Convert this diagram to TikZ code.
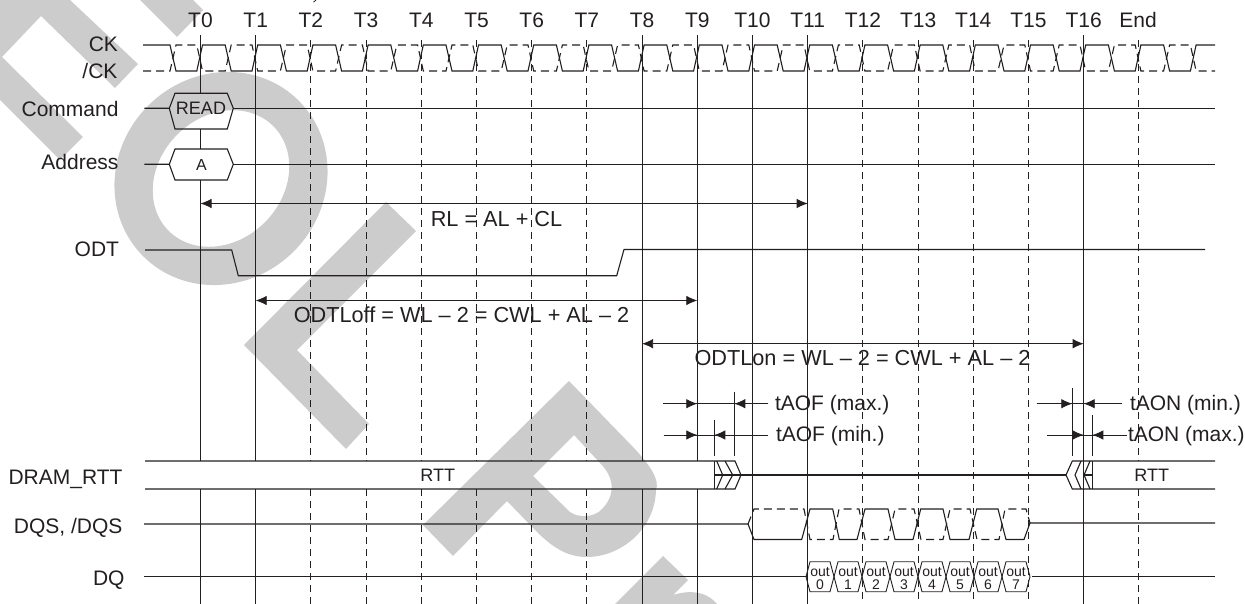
\documentclass[tikz,border=0pt]{standalone}
\usepackage{fontspec}
\setmainfont{Liberation Sans}
\usetikzlibrary{arrows.meta}
\definecolor{ink}{HTML}{231F20}
\definecolor{wm}{HTML}{CCCCCC}
\tikzset{
  wave/.style={draw=ink,line width=1.1pt,line join=miter},
  wavedash/.style={wave,dash pattern=on 8pt off 5pt},
  grid/.style={draw=ink,line width=0.9pt},
  griddash/.style={grid,dash pattern=on 7pt off 5pt},
  dim/.style={draw=ink,line width=0.8pt},
  dimarrow/.style={dim,-{Latex[length=11pt,width=9.5pt]}},
  lab/.style={inner sep=0pt,outer sep=0pt,text=ink,font=\fontsize{21}{21}\selectfont},
  labR/.style={lab,anchor=base east},
  labC/.style={lab,anchor=base},
  labL/.style={lab,anchor=base west},
  labW/.style={lab,anchor=base,font=\fontsize{21.7}{22}\selectfont},
  small/.style={inner sep=0pt,text=ink,anchor=base,font=\fontsize{18}{18}\selectfont},
  tiny/.style={inner sep=0pt,text=ink,anchor=base,font=\fontsize{14}{14}\selectfont},
}
\begin{document}
\begin{tikzpicture}[x=1pt,y=-1pt]
\useasboundingbox (0,0) rectangle (1245,604);
% watermark
\fill[wm] (0,0) -- (70,0) -- (138,64) -- (115,88) -- (41,16) -- (2,57) -- (83,137) -- (60,160) -- (0,100) -- cycle;
\fill[wm] (140,0) -- (177,37) -- (203,10) -- (193,0) -- cycle;
\fill[wm,even odd rule] (221,178.5) circle[x radius=110,y radius=103,rotate=45] (221,178.5) circle[x radius=74,y radius=62,rotate=45];
\fill[wm] (386,202) -- (416,231) -- (297,350) -- (369,424) -- (346,449) -- (244,345) -- cycle;
\fill[wm,even odd rule] (569,381) -- (633,447) .. controls (650,465) and (660,480) .. (656,490)
  .. controls (655,530) and (620,557) .. (587,557) .. controls (565,557) and (550,545) .. (535,530)
  -- (507,501) -- (453,556) -- (423,525) -- cycle
  (574,435) -- (533,476) -- (570,512) .. controls (578,518) and (595,518) .. (603,508)
  .. controls (615,495) and (615,478) .. (600,463) -- cycle;
\fill[wm] (663,556) -- (688,580) -- (673,595) .. controls (695,588) and (710,595) .. (717,604) -- (615,604) -- cycle;
\draw[ink,line width=0.8pt] (316,0) -- (313.5,2.2);
% time coordinates
\foreach \n in {0,...,17} {\coordinate (T\n) at ({200.5+55.2*\n},0);}
% grid lines
\foreach \n in {2,3,4,5,6,7,17} {
  \draw[griddash] (T\n |- 0,40) -- (T\n |- 0,461);
  \draw[griddash] (T\n |- 0,489) -- (T\n |- 0,604);
}
\foreach \n in {12,13,14,15} {\draw[griddash] (T\n |- 0,40) -- (T\n |- 0,604);}
\draw[grid] (T0 |- 0,35) -- (T0 |- 0,93);
\draw[grid] (T0 |- 0,129) -- (T0 |- 0,149);
\draw[grid] (T0 |- 0,180) -- (T0 |- 0,461);
\draw[grid] (T0 |- 0,489) -- (T0 |- 0,604);
\foreach \n in {1,8,9} {
  \draw[grid] (T\n |- 0,35) -- (T\n |- 0,461);
  \draw[grid] (T\n |- 0,489) -- (T\n |- 0,604);
}
\foreach \n in {10,11,16} {\draw[grid] (T\n |- 0,35) -- (T\n |- 0,604);}
% time labels
\foreach \n in {0,...,16} {\node[labC] (L\n) at ({200.5+55.2*\n},28) {T\n};}
\node[labC] (Lend) at (1138,28) {End};
% signal labels
\node[labR] (nCK) at (118,51.7) {CK};
\node[labR] (nCKb) at (117.5,79) {/CK};
\node[labR] (nCmd) at (118.5,116.7) {Command};
\node[labR] (nAddr) at (118.5,170) {Address};
\node[labR] (nODT) at (119,256.7) {ODT};
\node[labR] (nRTT) at (122.5,484.6) {DRAM\_RTT};
\node[labR] (nDQS) at (122.5,533.5) {DQS, /DQS};
\node[labR] (nDQ) at (124.5,585.5) {DQ};
% clocks
\draw[wave] (143,45) foreach \n in {-1,...,17} {
  -- ({200.5+55.2*\n+24.7},45) -- ({200.5+55.2*\n+30.7},71) -- ({200.5+55.2*\n+51.5},71) -- ({200.5+55.2*\n+57.2},45)
} -- (1215,45);
\draw[wavedash] (143,71) foreach \n in {-1,...,17} {
  -- ({200.5+55.2*\n+24.7},71) -- ({200.5+55.2*\n+30.7},45) -- ({200.5+55.2*\n+51.5},45) -- ({200.5+55.2*\n+57.2},71)
} -- (1215,71);
% command, address
\draw[wave] (144.3,108.3) -- (169.3,108.3) -- (175,93.3) -- (227.3,93.3) -- (233.3,108.3) -- (227.3,129) -- (175,129) -- (169.3,108.3);
\draw[wave] (233.3,108.3) -- (1215,108.3);
\node[small] (nREAD) at (201,115) {READ};
\draw[wave] (144.3,164.3) -- (169.3,164.3) -- (175,149) -- (227.3,149) -- (233.3,164.3) -- (227.3,180) -- (175,180) -- (169.3,164.3);
\draw[wave] (233.3,164.3) -- (1215,164.3);
\node[inner sep=0pt,text=ink,anchor=base,font=\fontsize{16}{16}\selectfont] (nA) at (201.5,171) {A};
% ODT
\draw[wave] (145,250) -- (231.7,250) -- (238.3,275.7) -- (616.7,275.7) -- (624,249.5) -- (1205,249.5);
% long dimensions
\coordinate (rlA) at (T0 |- 0,203.5); \coordinate (rlB) at (T11 |- 0,203.5);
\draw[dim,{Latex[length=11pt,width=9.5pt]}-{Latex[length=11pt,width=9.5pt]}] (rlA) -- (rlB);
\node[labW] (nRL) at (496.5,226) {RL = AL + CL};
\coordinate (ofA) at (T1 |- 0,300.5); \coordinate (ofB) at (T9 |- 0,300.5);
\draw[dim,{Latex[length=11pt,width=9.5pt]}-{Latex[length=11pt,width=9.5pt]}] (ofA) -- (ofB);
\node[labW] (nOff) at (461.5,322.7) {ODTLoff = WL – 2 = CWL + AL – 2};
\coordinate (onA) at (T8 |- 0,343.7); \coordinate (onB) at (T16 |- 0,343.7);
\draw[dim,{Latex[length=11pt,width=9.5pt]}-{Latex[length=11pt,width=9.5pt]}] (onA) -- (onB);
\node[labW] (nOn) at (862.5,365) {ODTLon = WL – 2 = CWL + AL – 2};
% tAOF
\coordinate (t734) at (734.3,391.7); \coordinate (t734b) at (734.3,456);
\coordinate (t714) at (714.3,420); \coordinate (t714b) at (714.3,456);
\draw[grid] (t734) -- (t734b); \draw[grid] (t714) -- (t714b);
\coordinate (a1) at (663.3,403.7); \coordinate (a2) at (T9 |- 0,403.7);
\coordinate (a3) at (768.3,403.7); \coordinate (a4) at (734.3,403.7);
\draw[dim] (a1) -- (a3); \draw[dimarrow] (a1) -- (a2); \draw[dimarrow] (a3) -- (a4);
\coordinate (b1) at (663.7,435); \coordinate (b2) at (T9 |- 0,435);
\coordinate (b3) at (768.3,435); \coordinate (b4) at (714.3,435);
\draw[dim] (b1) -- (b3); \draw[dimarrow] (b1) -- (b2); \draw[dimarrow] (b3) -- (b4);
\node[labL] (nAOFx) at (775,410) {tAOF (max.)};
\node[labL] (nAOFn) at (776,441.7) {tAOF (min.)};
% tAON
\coordinate (t1072) at (1072.3,388.3); \coordinate (t1072b) at (1072.3,456);
\coordinate (t1092) at (1092.3,415); \coordinate (t1092b) at (1092.3,456);
\draw[grid] (t1072) -- (t1072b); \draw[grid] (t1092) -- (t1092b);
\coordinate (c1) at (1036.7,403.7); \coordinate (c2) at (1072.3,403.7);
\coordinate (c3) at (1121.7,403.7); \coordinate (c4) at (T16 |- 0,403.7);
\draw[dim] (c1) -- (c3); \draw[dimarrow] (c1) -- (c2); \draw[dimarrow] (c3) -- (c4);
\coordinate (d1) at (1047.3,435); \coordinate (d2) at (T16 |- 0,435);
\coordinate (d3) at (1126.7,435); \coordinate (d4) at (1092.3,435);
\draw[dim] (d1) -- (d3); \draw[dimarrow] (d1) -- (d2); \draw[dimarrow] (d3) -- (d4);
\node[labL] (nAONn) at (1130,410) {tAON (min.)};
\node[labL] (nAONx) at (1128,441.7) {tAON (max.)};
% DRAM_RTT
\draw[wave] (145,461) -- (735,461) -- (741,475) -- (735,489) -- (145,489);
\draw[wave] (714.3,461) -- (714.3,489);
\draw[wave] (716.7,461) -- (722.7,475) -- (716.7,489);
\draw[wave] (725,461) -- (732.7,475) -- (725,489);
\draw[wave] (714.3,475) -- (1066,475);
\draw[wave] (1215,461) -- (1072.3,461) -- (1066,475) -- (1072.3,489) -- (1215,489);
\draw[wave] (1092.3,461) -- (1092.3,489);
\draw[wave] (1081,461) -- (1075,475) -- (1081,489);
\draw[wave] (1090,461) -- (1084,475) -- (1090,489);
\draw[wave] (1084,475) -- (1092.3,475);
\node[small] (nR1) at (437.7,481.7) {RTT};
\node[small] (nR2) at (1151.7,481.3) {RTT};
% DQS
\draw[wave] (144,524) -- (748,524) -- (754,539.5) -- (801.7,539.5) -- (810,509) -- (832.7,509) -- (839.3,539.5)
  -- (857,539.5) -- (865,509) -- (888,509) -- (895,539.5) -- (913,539.5) -- (920.7,509) -- (943,509) -- (950,539.5)
  -- (969,539.5) -- (976.7,509) -- (998,509) -- (1006,539.5) -- (1024,539.5) -- (1030,523) -- (1215,523);
\draw[wavedash] (748,524) -- (754,509) -- (804,509) -- (810,539.5) -- (833,539.5) -- (839,509) -- (859,509) -- (865,539.5)
  -- (888,539.5) -- (895,509) -- (914,509) -- (921,539.5) -- (943,539.5) -- (950,509) -- (970,509) -- (977,539.5)
  -- (999,539.5) -- (1005,509) -- (1026,509) -- (1030,523);
% DQ
\draw[wave,line width=1.3pt] (144,576.7) -- (806.5,576.7);
\draw[wave,line width=1.3pt] (1032,576.7) -- (1215,576.7);
\foreach \k in {0,...,7} {
  \pgfmathsetmacro{\cx}{820+28*\k}
  \draw[draw=ink,line width=0.9pt] ({\cx-14},576.7) -- ({\cx-10},561.7) -- ({\cx+10},561.7) -- ({\cx+14},576.7) -- ({\cx+10},591.7) -- ({\cx-10},591.7) -- cycle;
  \node[tiny] (o\k) at (\cx,576.7) {out};
  \node[tiny] (d\k) at (\cx,589.3) {\k};
}
\end{tikzpicture}
\end{document}
